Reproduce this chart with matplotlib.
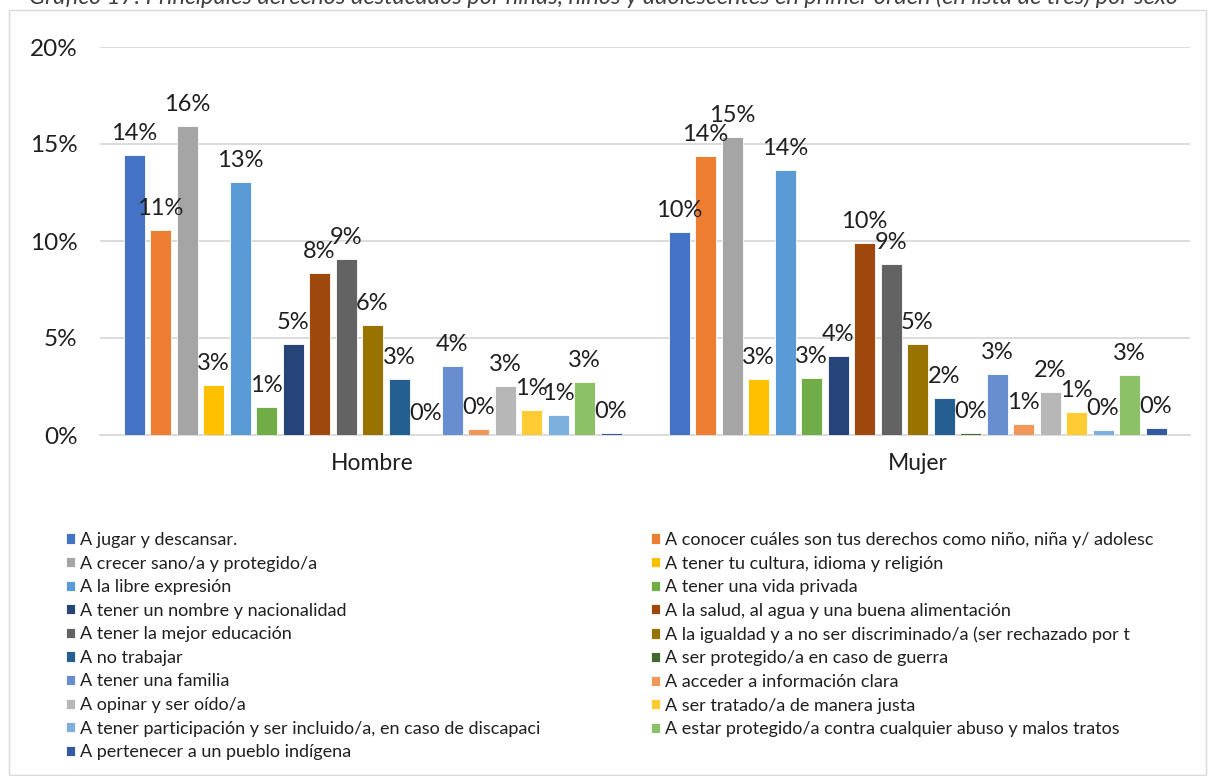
import numpy as np
import matplotlib.pyplot as plt
from matplotlib.patches import Rectangle

plt.rcParams['font.family'] = ['Lato', 'DejaVu Sans']

categories = ["Hombre", "Mujer"]

series = [
    "A jugar y descansar.",
    "A conocer cuáles son tus derechos como niño, niña y/ adolesc",
    "A crecer sano/a y protegido/a",
    "A tener tu cultura, idioma y religión",
    "A la libre expresión",
    "A tener una vida privada",
    "A tener un nombre y nacionalidad",
    "A la salud, al agua y una buena alimentación",
    "A tener la mejor educación",
    "A la igualdad y a no ser discriminado/a (ser rechazado por t",
    "A no trabajar",
    "A ser protegido/a en caso de guerra",
    "A tener una familia",
    "A acceder a información clara",
    "A opinar y ser oído/a",
    "A ser tratado/a de manera justa",
    "A tener participación y ser incluido/a, en caso de discapaci",
    "A estar protegido/a contra cualquier abuso y malos tratos",
    "A pertenecer a un pueblo indígena",
]

hombre = [0.1443, 0.1057, 0.1594, 0.0258, 0.1304, 0.0143, 0.0467, 0.0833,
          0.0905, 0.0569, 0.0289, 0.0000, 0.0356, 0.0031, 0.0252, 0.0127,
          0.0101, 0.0272, 0.0012]
mujer = [0.1045, 0.1436, 0.1538, 0.0289, 0.1364, 0.0295, 0.0407, 0.0991,
         0.0883, 0.0469, 0.0192, 0.0012, 0.0314, 0.0055, 0.0220, 0.0119,
         0.0026, 0.0309, 0.0038]

colors = ["#4472C4", "#ED7D31", "#A5A5A5", "#FFC000", "#5B9BD5", "#70AD47",
          "#264478", "#9E480E", "#636363", "#997300", "#255E91", "#43682B",
          "#698ED0", "#F1975A", "#B7B7B7", "#FFCD33", "#7CAFDD", "#8CC168",
          "#335AA1"]

W, H = 1208, 776
fig = plt.figure(figsize=(W / 100, H / 100), dpi=100)
ax = fig.add_axes([100 / W, 1 - 435 / H, 1090 / W, 388 / H])

x = np.arange(len(categories))
n = len(series)
pitch = 26.5 / 545
width = 21 / 545
text_col = "#1f1f1f"

handles = []
for i in range(n):
    vals = [hombre[i], mujer[i]]
    bars = ax.bar(x + (i - (n - 1) / 2) * pitch, vals, width,
                  color=colors[i], edgecolor="white", linewidth=0.6,
                  label=series[i], zorder=3)
    ax.bar_label(bars, labels=[f"{v * 100:.0f}%" for v in vals],
                 padding=8, fontsize=17, color=text_col, zorder=4)
    handles.append(bars)

ax.set_xlim(-0.5, 1.5)
ax.set_ylim(0, 0.20)
ticks = np.arange(0, 0.201, 0.05)
ax.set_yticks(ticks)
ax.set_yticklabels([f"{int(round(t * 100))}%" for t in ticks])
ax.set_xticks(x)
ax.set_xticklabels(categories)
ax.tick_params(axis="y", length=0, pad=16, labelsize=17.5, labelcolor=text_col)
ax.tick_params(axis="x", length=0, pad=13, labelsize=16.5, labelcolor=text_col)
ax.grid(axis="y", color="#d9d9d9", linewidth=1.3, zorder=0)
for s in ["top", "right", "left"]:
    ax.spines[s].set_visible(False)
ax.spines["bottom"].set_color("#d9d9d9")
ax.spines["bottom"].set_linewidth(1.3)

# legend in two columns, row-major like the original
left_idx = list(range(0, n, 2))
right_idx = list(range(1, n, 2))
leg_kw = dict(loc="upper left", frameon=False, fontsize=13, borderpad=0,
              borderaxespad=0, handlelength=0.5, handleheight=0.5,
              handletextpad=0.3, labelspacing=0.42, labelcolor=text_col)
fig.legend([handles[i] for i in left_idx], [series[i] for i in left_idx],
           bbox_to_anchor=(66 / W, 1 - 532 / H), **leg_kw)
fig.legend([handles[i] for i in right_idx], [series[i] for i in right_idx],
           bbox_to_anchor=(651 / W, 1 - 532 / H), **leg_kw)

fig.text(0.5, 1 - 4 / H,
         "Gráfico 17: Principales derechos destacados por niñas, niños y adolescentes "
         "en primer orden (en lista de tres) por sexo",
         ha="center", va="baseline", style="italic", fontsize=17,
         color="#404040")

fig.patches.append(Rectangle((9 / W, 1 - 775 / H), 1197 / W, 765 / H,
                             transform=fig.transFigure, fill=False,
                             edgecolor="#d9d9d9", linewidth=1))

fig.savefig("out.png", dpi=100)
